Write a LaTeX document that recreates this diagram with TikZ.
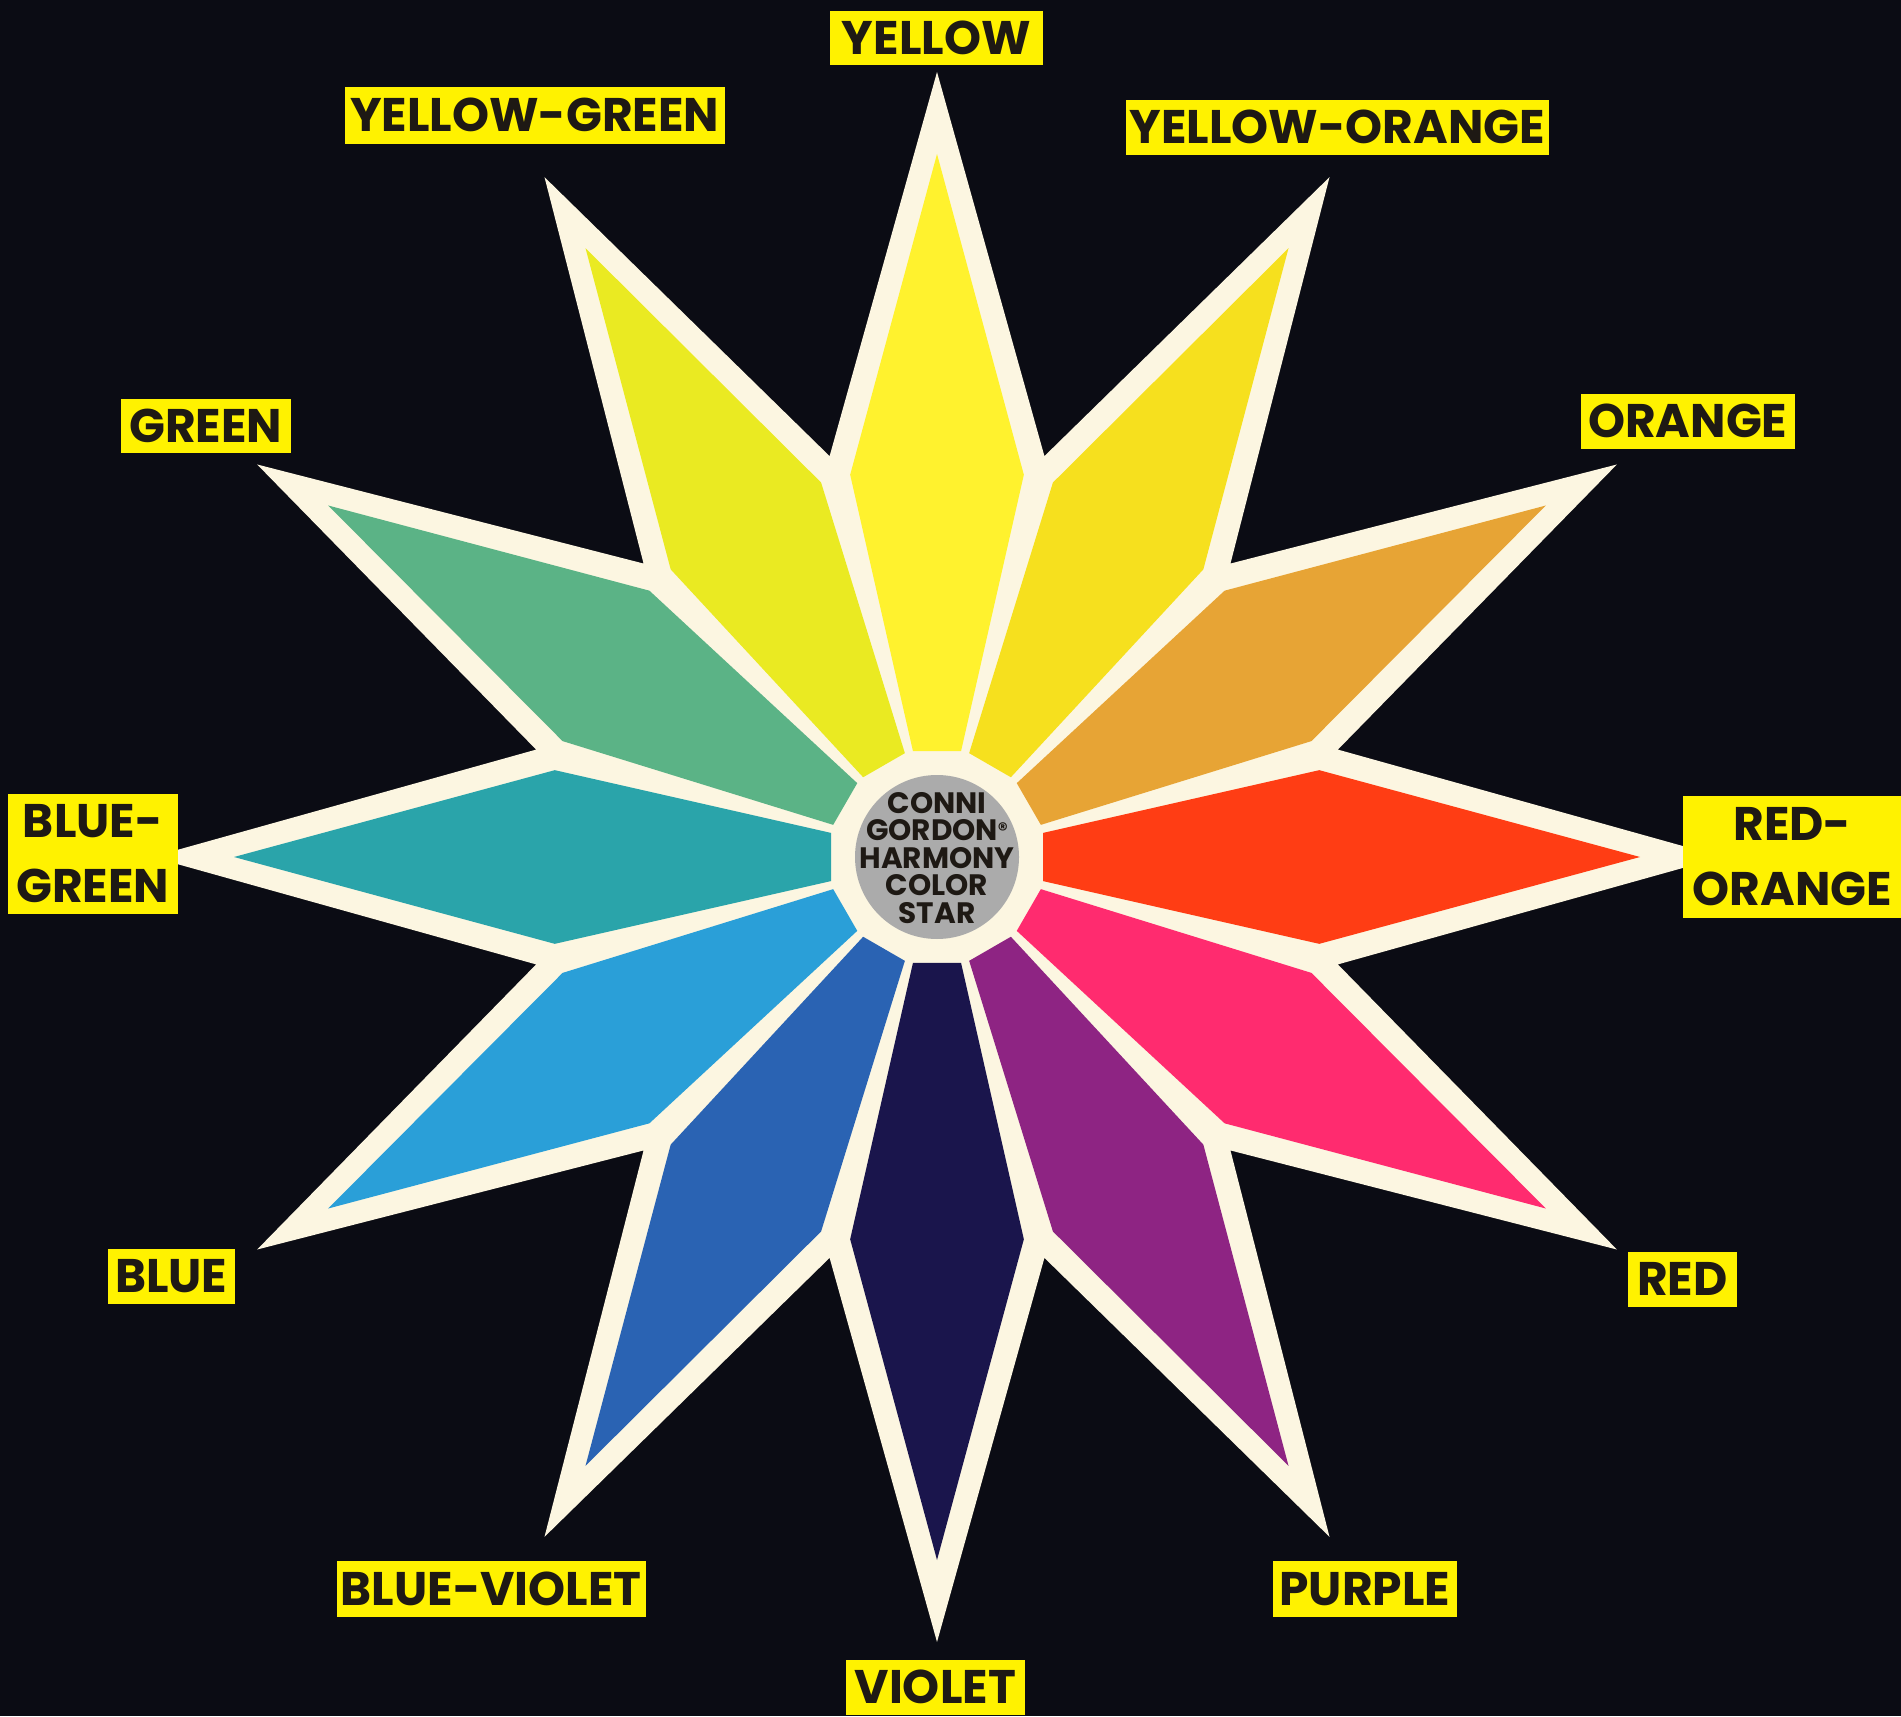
\documentclass[tikz,border=0pt]{standalone}
\usepackage{fontspec}
\newfontfamily\labfont{Poppins}
\definecolor{bg}{HTML}{0B0C14}
\definecolor{cream}{HTML}{FCF6E1}
\definecolor{labyellow}{HTML}{FFF200}
\definecolor{labtext}{HTML}{1E1914}
\definecolor{discgray}{HTML}{ABABAB}
\definecolor{cYellow}{HTML}{FFF22E}
\definecolor{cYellowOrange}{HTML}{F6E01E}
\definecolor{cOrange}{HTML}{E7A435}
\definecolor{cRedOrange}{HTML}{FF3D14}
\definecolor{cRed}{HTML}{FF2B6F}
\definecolor{cPurple}{HTML}{8E2483}
\definecolor{cViolet}{HTML}{1A154C}
\definecolor{cBlueViolet}{HTML}{2A63B3}
\definecolor{cBlue}{HTML}{2A9FD8}
\definecolor{cBlueGreen}{HTML}{2AA4AA}
\definecolor{cGreen}{HTML}{5BB386}
\definecolor{cYellowGreen}{HTML}{EAEA22}
\begin{document}
\begin{tikzpicture}[x=0.01cm,y=-0.01cm,
  lab/.style={fill=labyellow, text=labtext, inner sep=0pt, anchor=north west,
    font=\labfont\bfseries\fontsize{13.4pt}{16pt}\selectfont,
    text height=0.33cm, text depth=0pt},
  lab2/.style={fill=labyellow, text=labtext, inner sep=0pt, anchor=north west,
    align=center, font=\labfont\bfseries\fontsize{13.4pt}{18.5pt}\selectfont},
  piece/.style={draw=none}]
\useasboundingbox (0,0) rectangle (1901,1716);
\fill[bg] (0,0) rectangle (1901,1716);
\begin{scope}[shift={(937,857)}, yscale=-1]
  % cream star
  \fill[cream] (90:785) \foreach \i in {0,...,10} { -- ({75-30*\i}:415) -- ({60-30*\i}:785) } -- (105:415) -- cycle;
  % colored kites
  \foreach \a/\c in {90/cYellow, 60/cYellowOrange, 30/cOrange, 0/cRedOrange,
                     -30/cRed, -60/cPurple, -90/cViolet, -120/cBlueViolet,
                     -150/cBlue, 180/cBlueGreen, 150/cGreen, 120/cYellowGreen} {
    \fill[\c] ({\a-12.8}:108.7) -- ({\a-12.8}:392) -- (\a:703) -- ({\a+12.8}:392) -- ({\a+12.8}:108.7) -- cycle;
  }
  \fill[cream] (0,0) circle (104);
  \fill[discgray] (0,0) circle (82);
  \node[align=center, text=labtext, inner sep=0pt,
        font=\labfont\bfseries\fontsize{8.4pt}{7.8pt}\selectfont] (centre) at (0,-1)
        {CONNI\\GORDON\raisebox{0.3ex}{\fontsize{5.5pt}{5.5pt}\selectfont ®}\\HARMONY\\COLOR\\STAR};
\end{scope}
% labels
\node[lab, minimum width=2.13cm, minimum height=0.54cm] (yellow) at (829,10) {YELLOW};
\node[lab, minimum width=3.80cm, minimum height=0.57cm] (yellowgreen) at (344,86) {YELLOW-GREEN};
\node[lab, minimum width=4.23cm, minimum height=0.55cm] (yelloworange) at (1125,99) {YELLOW-ORANGE};
\node[lab, minimum width=1.70cm, minimum height=0.54cm] (green) at (120,398) {GREEN};
\node[lab, minimum width=2.14cm, minimum height=0.55cm] (orange) at (1580,393) {ORANGE};
\node[lab2, minimum width=1.70cm, minimum height=1.20cm] (bluegreen) at (7,793) {BLUE-\\GREEN};
\node[lab2, minimum width=2.19cm, minimum height=1.22cm] (redorange) at (1682,795) {RED-\\ORANGE};
\node[lab, minimum width=1.27cm, minimum height=0.55cm] (blue) at (107,1248) {BLUE};
\node[lab, minimum width=1.09cm, minimum height=0.55cm] (red) at (1627,1251) {RED};
\node[lab, minimum width=3.09cm, minimum height=0.56cm] (blueviolet) at (336,1560) {BLUE-VIOLET};
\node[lab, minimum width=1.84cm, minimum height=0.56cm] (purple) at (1272,1560) {PURPLE};
\node[lab, minimum width=1.79cm, minimum height=0.55cm] (violet) at (845,1659) {VIOLET};
\end{tikzpicture}
\end{document}
